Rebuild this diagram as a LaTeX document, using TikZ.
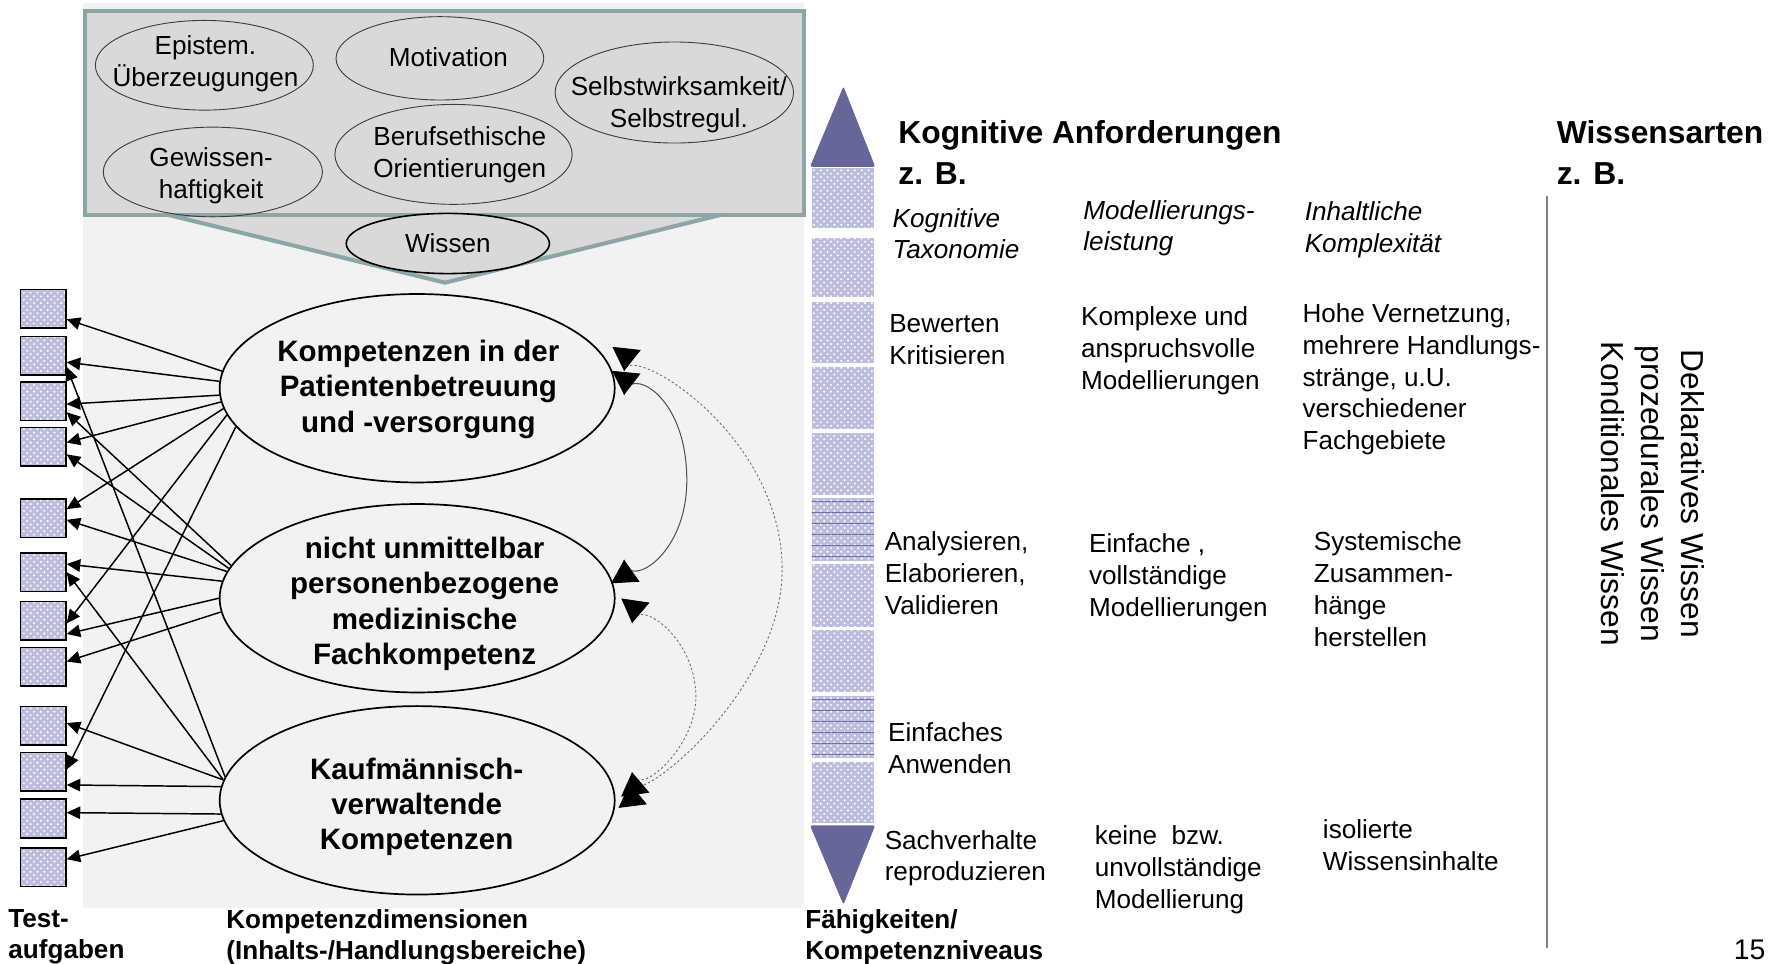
\documentclass[tikz,border=0pt]{standalone}
\usepackage{fontspec}
\setmainfont{Liberation Sans}
\usetikzlibrary{arrows.meta,patterns,patterns.meta,shapes.geometric,decorations.markings}
\definecolor{bglight}{RGB}{242,242,242}
\definecolor{panelgray}{RGB}{217,217,217}
\definecolor{panelborder}{RGB}{140,166,166}
\definecolor{lav}{RGB}{188,188,220}
\definecolor{lavline}{RGB}{110,110,170}
\definecolor{tripurple}{RGB}{102,102,153}
\definecolor{divgray}{RGB}{128,128,128}
\definecolor{ellline}{RGB}{60,60,60}
\definecolor{curvesolid}{RGB}{80,80,80}
\definecolor{curvedot}{RGB}{110,110,110}
\begin{document}
\begin{tikzpicture}[x=0.5pt,y=-0.5pt,
 txt/.style={inner sep=0pt, anchor=north west, align=left, font=\fontsize{11.5}{14}\selectfont},
 itxt/.style={inner sep=0pt, anchor=north west, align=left, font=\fontsize{11.5}{14}\selectfont\itshape},
 headtxt/.style={inner sep=0pt, anchor=north west, align=left, font=\fontsize{14}{17.8}\selectfont\bfseries},
 foottxt/.style={inner sep=0pt, anchor=north west, align=left, font=\fontsize{11.5}{13.5}\selectfont\bfseries},
 topell/.style={ellipse, draw=ellline, line width=0.4pt, inner sep=0pt},
 toptxt/.style={inner sep=0pt, align=center, font=\fontsize{11.5}{14}\selectfont},
 bigell/.style={ellipse, draw=black, line width=0.75pt, fill=bglight, inner sep=0pt, minimum width=174pt, minimum height=83pt},
 bigtxt/.style={inner sep=0pt, align=center, font=\fontsize{13}{15.5}\selectfont\bfseries},
 item/.style={rectangle, draw=black, line width=0.7pt, minimum width=20pt, minimum height=17pt, inner sep=0pt, preaction={fill=lav}, pattern=crosshatch dots, pattern color=white},
 link/.style={line width=0.65pt, -{Triangle[length=6pt,width=5.5pt]}},
 corrtips/.style={postaction={decorate, decoration={markings,
   mark=at position 0.1pt with {\arrowreversed{Triangle[length=10pt,width=12.5pt,color=black]}},
   mark=at position -0.1pt with {\arrow{Triangle[length=10pt,width=12.5pt,color=black]}}}}},
 corrsolid/.style={draw=curvesolid, line width=0.45pt, corrtips},
 corrdot/.style={draw=curvedot, line width=0.4pt, dash pattern=on 1pt off 1pt, corrtips},
 seg/.style={preaction={fill=lav}, pattern=crosshatch dots, pattern color=white},
 segstripe/.style={pattern={Lines[distance=4.85pt,angle=0,line width=0.5pt]}, pattern color=lavline}
]
\useasboundingbox (0,0) rectangle (1568,849);
\fill[white] (0,0) rectangle (1568,849);

% background areas
\fill[bglight] (73,3) rectangle (708,800);
\fill[panelgray] (147,189) -- (392,249) -- (636,189) -- cycle;
\draw[panelborder, line width=1.8pt, fill=panelgray] (75,10) rectangle (708,189);
\draw[panelborder, line width=1.8pt] (147,189) -- (392,249) -- (636,189);

% top ellipses
\node[topell, minimum width=96pt, minimum height=39.5pt] (ep) at (180,57.5) {};
\node[topell, minimum width=91.5pt, minimum height=36.7pt] (mo) at (387.5,51.4) {};
\node[topell, minimum width=105pt, minimum height=44.5pt] (se) at (594,81.5) {};
\node[topell, minimum width=96.5pt, minimum height=39.5pt] (ge) at (187.5,151.5) {};
\node[topell, minimum width=104.5pt, minimum height=44pt] (be) at (399.5,136) {};
\node[toptxt] (ept) at (181,56) {Epistem.\\Überzeugungen};
\node[toptxt] (mot) at (395,50) {Motivation};
\node[toptxt] (set) at (598,92) {Selbstwirksamkeit/\\Selbstregul.};
\node[toptxt] (get) at (186,155) {Gewissen-\\haftigkeit};
\node[toptxt] (bet) at (405,136) {Berufsethische\\Orientierungen};
\node[ellipse, draw=black, line width=0.7pt, fill=panelgray, inner sep=0pt, minimum width=89.5pt, minimum height=26.5pt, font=\fontsize{11.5}{14}\selectfont] (wi) at (394.5,214.5) {Wissen};

% competence ellipses
\node[bigell] (E1) at (367.5,342) {};
\node[bigell] (E2) at (367.5,527) {};
\node[bigell] (E3) at (367.5,705) {};
\node[bigtxt] (E1t) at (368.5,343) {Kompetenzen in der\\Patientenbetreuung\\und -versorgung};
\node[bigtxt] (E2t) at (374,532) {nicht unmittelbar\\personenbezogene\\medizinische\\Fachkompetenz};
\node[bigtxt] (E3t) at (367,711) {Kaufmännisch-\\verwaltende\\Kompetenzen};

% test items
\node[item] (B1) at (38,272) {};
\node[item] (B2) at (38,313.5) {};
\node[item] (B3) at (38,353.5) {};
\node[item] (B4) at (38,393.5) {};
\node[item] (B5) at (38,456.5) {};
\node[item] (B6) at (38,504) {};
\node[item] (B7) at (38,547) {};
\node[item] (B8) at (38,587.5) {};
\node[item] (B9) at (38,639.5) {};
\node[item] (B10) at (38,680) {};
\node[item] (B11) at (38,721) {};
\node[item] (B12) at (38,764) {};

% loadings
\draw[link] (E1.175) -- (B1.336);
\draw[link] (E1.178) -- (B2.345);
\draw[link] (E1.182) -- (B3.353);
\draw[link] (E1.184) -- (B4.10);
\draw[link] (E1.186) -- (B5.21);
\draw[link] (E1.188) -- (B7.354);
\draw[link] (E1.192) -- (B10.6);
\draw[link] (E2.170) -- (B3.335);
\draw[link] (E2.171) -- (B4.342);
\draw[link] (E2.172) -- (B5.356);
\draw[link] (E2.175) -- (B6.19);
\draw[link] (E2.180) -- (B7.331);
\draw[link] (E2.184) -- (B8.13);
\draw[link] (E3.173) -- (B2.335);
\draw[link] (E3.174) -- (B6.east);
\draw[link] (E3.174) -- (B9.7);
\draw[link] (E3.176) -- (B10.331);
\draw[link] (E3.184) -- (B11.14);
\draw[link] (E3.186) -- (B12.19);

% correlations
\coordinate (T1) at ([xshift=3.75pt,yshift=7.5pt]E1.east);
\coordinate (T2) at ([xshift=3.75pt,yshift=-3pt]E1.east);
\coordinate (T3) at ([xshift=3.75pt,yshift=17pt]E2.east);
\coordinate (T4) at ([xshift=7.25pt,yshift=-11pt]E2.east);
\coordinate (T5) at ([xshift=7.25pt,yshift=12.5pt]E3.east);
\coordinate (T6) at ([xshift=6.25pt,yshift=7.5pt]E3.east);
\draw[corrsolid] (T2) .. controls (552,322) and (605,345) .. (605,423) .. controls (605,492) and (551,520) .. (T3);
\draw[corrdot] (T1) .. controls (552,300) and (689,380) .. (689,502) .. controls (689,610) and (557,715) .. (T6);
\draw[corrdot] (T4) .. controls (560,525) and (613,560) .. (613,614) .. controls (613,660) and (560,705) .. (T5);

% level scale
\fill[tripurple, rounded corners=1pt] (713.5,147) -- (743,76) -- (771,147) -- cycle;
\fill[tripurple, rounded corners=1pt] (713.5,727) -- (771,727) -- (743,797) -- cycle;
\foreach \a/\b in {148/201,210/262,266/320,323/378,381/436,439/494,497/552,555/610,613/668,671/725}
  {\fill[seg] (715,\a) rectangle (770,\b);}
\fill[segstripe] (715,439) rectangle (770,494);
\fill[segstripe] (715,613) rectangle (770,668);

% right side texts
\node[headtxt] (h1) at (791,106) {Kognitive Anforderungen\\z. B.};
\node[headtxt] (h2) at (1371,106) {Wissensarten\\z. B.};
\node[itxt] (c1h) at (786,183) {Kognitive\\Taxonomie};
\node[itxt] (c2h) at (954,176) {Modellierungs-\\leistung};
\node[itxt] (c3h) at (1149,177.5) {Inhaltliche\\Komplexität};
\node[txt] (c1a) at (783,277) {Bewerten\\Kritisieren};
\node[txt] (c2a) at (952,270) {Komplexe und\\anspruchsvolle\\Modellierungen};
\node[txt] (c3a) at (1147,267) {Hohe Vernetzung,\\mehrere Handlungs-\\stränge, u.U.\\verschiedener\\Fachgebiete};
\node[txt] (c1b) at (779,468) {Analysieren,\\Elaborieren,\\Validieren};
\node[txt] (c2b) at (959,470) {Einfache ,\\vollständige\\Modellierungen};
\node[txt] (c3b) at (1157,468) {Systemische\\Zusammen-\\hänge\\herstellen};
\node[txt] (c1c) at (782,636) {Einfaches\\Anwenden};
\node[txt] (c1d) at (779,731) {Sachverhalte\\reproduzieren};
\node[txt] (c2d) at (964,727) {keine~~bzw.\\unvollständige\\Modellierung};
\node[txt] (c3d) at (1165,722) {isolierte\\Wissensinhalte};
\draw[divgray, line width=1pt] (1363,173) -- (1363,835);
\node[rotate=-90, align=center, inner sep=0pt, font=\fontsize{14}{17.5}\selectfont] (wa) at (1456,435) {Deklaratives Wissen\\prozedurales Wissen\\Konditionales Wissen};
\node[inner sep=0pt, anchor=north west, font=\fontsize{12.5}{15}\selectfont] (pg) at (1527,828) {15};

% bottom labels
\node[foottxt] (f1) at (7,801) {Test-\\aufgaben};
\node[foottxt] (f2) at (199,801) {Kompetenzdimensionen\\(Inhalts-/Handlungsbereiche)};
\node[foottxt] (f3) at (709,801) {Fähigkeiten/\\Kompetenzniveaus};
\end{tikzpicture}
\end{document}
